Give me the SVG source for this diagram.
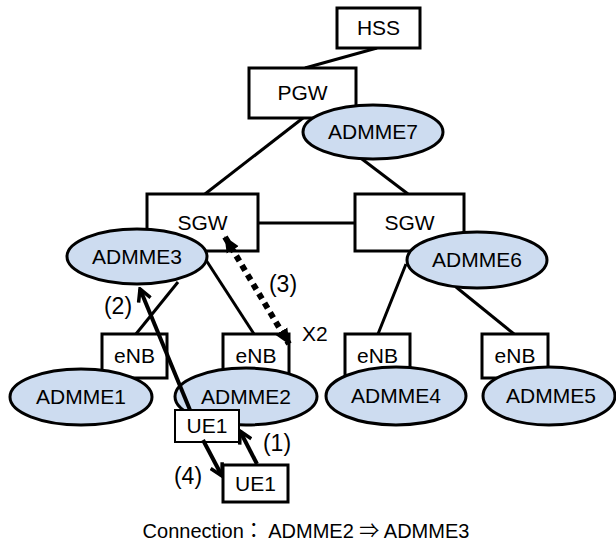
<svg xmlns="http://www.w3.org/2000/svg" width="616" height="548" viewBox="0 0 616 548">
  <defs>
    <style>
      .box { fill: #ffffff; stroke: #000000; stroke-width: 3; }
      .box-thin { fill: #ffffff; stroke: #000000; stroke-width: 2; }
      .mme { fill: #cddcf0; stroke: #000000; stroke-width: 3; }
      .link { stroke: #000000; stroke-width: 3; fill: none; }
      .flow { stroke: #000000; stroke-width: 4; fill: none; marker-end: url(#vhead); }
      .x2 { stroke: #000000; stroke-width: 6; fill: none; stroke-dasharray: 6 5; marker-start: url(#tri); marker-end: url(#tri); }
      text { font-family: "Liberation Sans", "Noto Sans CJK JP", sans-serif; font-size: 21px; fill: #000000; }
      .lbl { text-anchor: middle; }
      .step { font-size: 23px; }
      .caption { font-size: 20px; }
    </style>
    <marker id="vhead" viewBox="0 0 16 16" refX="14" refY="8" markerWidth="16" markerHeight="16" markerUnits="userSpaceOnUse" orient="auto">
      <path d="M2,1.5 L14,8 L2,14.5" fill="none" stroke="#000000" stroke-width="3.5" stroke-linejoin="miter"/>
    </marker>
    <marker id="tri" viewBox="0 0 16 16" refX="15" refY="8" markerWidth="16" markerHeight="16" markerUnits="userSpaceOnUse" orient="auto-start-reverse">
      <path d="M0,1 L16,8 L0,15 Z" fill="#000000"/>
    </marker>
  </defs>

  <!-- network links -->
  <g id="connectors">
    <line class="link" x1="377" y1="48" x2="305" y2="68"/>
    <line class="link" x1="303" y1="118" x2="205" y2="194"/>
    <line class="link" x1="358" y1="156" x2="408" y2="194"/>
    <line class="link" x1="258" y1="223" x2="355" y2="223"/>
    <line class="link" x1="178" y1="282" x2="136" y2="334"/>
    <line class="link" x1="206" y1="260" x2="254" y2="334"/>
    <line class="link" x1="406" y1="264" x2="378" y2="334"/>
    <line class="link" x1="456" y1="287" x2="514" y2="334"/>
  </g>

  <g id="hss">
    <rect class="box" x="337" y="8" width="83" height="40"/>
    <text class="lbl" x="378.5" y="35">HSS</text>
  </g>
  <g id="pgw">
    <rect class="box" x="249" y="68" width="107" height="50"/>
    <text class="lbl" x="302.5" y="100">PGW</text>
  </g>
  <g id="admme7">
    <ellipse class="mme" cx="373" cy="132" rx="70" ry="27"/>
    <text class="lbl" x="373" y="139">ADMME7</text>
  </g>

  <g id="sgw-left">
    <rect class="box" x="147" y="194" width="111" height="57"/>
    <text class="lbl" x="202.5" y="230">SGW</text>
  </g>
  <g id="sgw-right">
    <rect class="box" x="355" y="194" width="109" height="57"/>
    <text class="lbl" x="409.5" y="230">SGW</text>
  </g>
  <g id="admme3">
    <ellipse class="mme" cx="137" cy="256.5" rx="70" ry="27.5"/>
    <text class="lbl" x="137" y="264">ADMME3</text>
  </g>
  <g id="admme6">
    <ellipse class="mme" cx="477" cy="260" rx="70" ry="28"/>
    <text class="lbl" x="477" y="267">ADMME6</text>
  </g>

  <g id="enb1">
    <rect class="box" x="102" y="334" width="65" height="44"/>
    <text class="lbl" x="134.5" y="363">eNB</text>
  </g>
  <g id="enb2">
    <rect class="box" x="223" y="334" width="66" height="44"/>
    <text class="lbl" x="256" y="363">eNB</text>
  </g>
  <g id="enb3">
    <rect class="box" x="345" y="334" width="65" height="44"/>
    <text class="lbl" x="377.5" y="363">eNB</text>
  </g>
  <g id="enb4">
    <rect class="box" x="482" y="334" width="66" height="44"/>
    <text class="lbl" x="515" y="363">eNB</text>
  </g>

  <g id="admme1">
    <ellipse class="mme" cx="81" cy="397" rx="71" ry="28"/>
    <text class="lbl" x="81" y="404">ADMME1</text>
  </g>
  <g id="admme2">
    <ellipse class="mme" cx="246" cy="396.5" rx="71" ry="28.5"/>
    <text class="lbl" x="246" y="404">ADMME2</text>
  </g>
  <g id="admme4">
    <ellipse class="mme" cx="396" cy="396" rx="70" ry="29"/>
    <text class="lbl" x="396" y="403">ADMME4</text>
  </g>
  <g id="admme5">
    <ellipse class="mme" cx="549" cy="396" rx="66" ry="29"/>
    <text class="lbl" x="551" y="403">ADMME5</text>
  </g>

  <g id="ue1-a">
    <rect class="box-thin" x="175" y="410" width="64" height="32"/>
    <text class="lbl" x="207" y="433">UE1</text>
  </g>
  <g id="ue1-b">
    <rect class="box" x="223" y="465" width="65" height="37"/>
    <text class="lbl" x="255.5" y="491">UE1</text>
  </g>

  <!-- signalling arrows -->
  <g id="flows">
    <line class="flow" x1="190" y1="410" x2="140" y2="289"/>
    <line class="x2" x1="225" y1="237" x2="289" y2="344"/>
    <line class="flow" x1="257" y1="464" x2="240" y2="431"/>
    <line class="flow" x1="203" y1="440" x2="222" y2="476"/>
  </g>

  <g id="labels">
    <text class="lbl step" x="118" y="314">(2)</text>
    <text class="lbl step" x="283" y="292">(3)</text>
    <text x="302" y="341">X2</text>
    <text class="lbl step" x="277" y="451">(1)</text>
    <text class="lbl step" x="188" y="484">(4)</text>
    <text class="lbl caption" x="306" y="538">Connection： ADMME2 ⇒ ADMME3</text>
  </g>
</svg>
